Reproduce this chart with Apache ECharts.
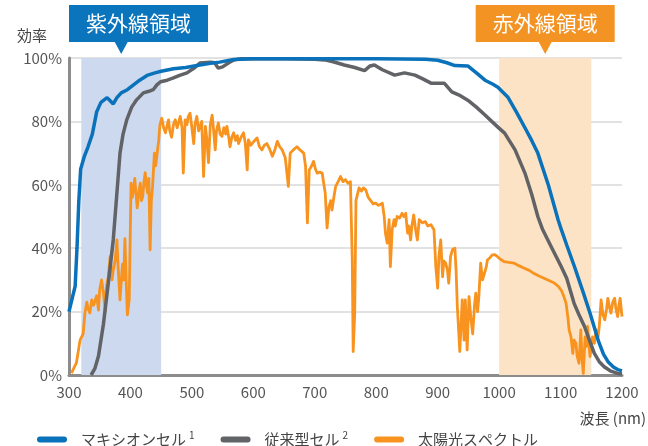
<!DOCTYPE html>
<html><head><meta charset="utf-8">
<script src="https://cdn.jsdelivr.net/npm/echarts@6/dist/echarts.min.js"></script>
<style>html,body{margin:0;padding:0;background:#fff}#c{width:648px;height:446px}</style>
</head><body><div id="c"></div>
<script>
const seriesNames = ['マキシオンセル', '従来型セル', '太陽光スペクトル'];
const superscripts = ['1', '2', ''];
const uvRange = [320, 450];
const irRange = [1000, 1150];
const uvLabel = '紫外線領域';
const irLabel = '赤外線領域';
const yLabel = '効率';
const xLabel = '波長 (nm)';

const maxeon = [[300,20],[305,24],[310,28],[313,40],[316,55],[319,65],[325,69],[331,72],[338,76],[345,83],[352,86],[362,87.5],[367,86.5],[372,85.5],[378,87.5],[385,89],[395,90],[405,91.5],[415,93],[427,94.5],[440,95.3],[450,95.8],[470,96.6],[490,97],[513,97.8],[530,98.3],[545,98.7],[568,99.5],[600,99.8],[700,99.8],[800,99.8],[880,99.6],[900,99.3],[915,98.5],[928,97.6],[949,97.5],[965,95],[977,93],[990,91.7],[998,90.8],[1014,87.7],[1028,83],[1042,78],[1053,74],[1063,70],[1080,60],[1096,49],[1101,46],[1110,41],[1123,34],[1137,26],[1148,19.5],[1155,15],[1162,10.5],[1170,6.5],[1178,4],[1186,2.5],[1193,1.7],[1200,1.3]];

const conventional = [[336,0],[342,2],[348,6],[356,16],[364,29],[372,42.6],[377,55],[383,70],[388,76],[394,80.5],[402,84.5],[410,86.8],[421,89],[430,89.5],[437,90],[443,91.5],[449,92.5],[460,93],[470,93.7],[480,94.5],[492,95.3],[505,97],[513,98.4],[530,98.7],[537,98.5],[543,96.8],[550,97.2],[560,98.5],[568,99.4],[580,99.8],[650,99.8],[700,99.6],[716,99.4],[730,98.8],[748,97.8],[765,97],[781,96],[790,97.5],[797,97.8],[810,96.3],[830,94.6],[846,95.3],[863,94.6],[875,93.5],[890,92],[911,92],[923,89.3],[935,88.3],[949,86.7],[963,84.5],[977,82],[988,80],[998,78.2],[1009,76.3],[1026,71],[1042,63.7],[1053,57],[1063,50],[1071,45.8],[1086,40],[1101,34.2],[1110,30.5],[1122,22.6],[1130,19],[1139,15.3],[1147,11],[1155,6.8],[1163,4.2],[1171,2.6],[1182,1.2],[1193,0.5],[1200,0.3]];

const spectrum = [[304,0.6],[312,3.8],[318,11],[323,13],[326,19.6],[329,23],[331,21],[334,19.6],[337,23.7],[340,22],[342,21.6],[345,25],[348,20.5],[350,27],[353,30],[356,26],[359,20],[361,28],[364,31],[367,37.4],[370,30],[372,33],[375,36],[378,42.6],[380,34],[383,23.7],[387,35],[389,30],[391,43],[393,30],[395,19],[398,23.7],[401,60.5],[403,56],[405,58.4],[407,62],[409,61.6],[411,52.7],[414,58],[416,60.5],[418,55],[420,56.3],[422,61],[424,63.8],[426,60],[428,57.4],[430,62],[432,39.5],[434,55],[436,59.5],[439,70],[441,66],[443,65.8],[446,74],[448,79],[451,81],[454,78],[457,76.4],[460,79],[462,80.5],[464,77],[467,75],[470,79],[473,80.5],[476,78],[479,80],[481,81.6],[484,78],[486,63.7],[489,80.5],[492,79],[494,81.5],[497,82.6],[500,78],[503,73],[505,79],[508,81.6],[511,77],[514,76.4],[516,80],[519,62.6],[522,78.4],[524,75],[527,67],[530,79],[533,82],[535,78],[538,71],[540,77],[543,79.5],[546,76],[549,75.3],[552,78],[555,76],[557,78.4],[560,75],[562,72],[565,75],[568,76.4],[571,74],[574,75.5],[576,73],[580,75],[584,76.4],[587,73],[590,64.7],[592,74.2],[596,72.5],[600,73.5],[603,74],[606,74.8],[610,72],[614,71],[618,72.5],[622,73],[626,71.5],[631,69],[635,71],[639,73.7],[643,72],[647,71],[652,68.5],[655,69],[657,59.5],[660,70],[665,71],[671,72],[676,71],[682,70],[685,65.8],[688,48],[691,64.7],[695,66],[698,67.4],[701,65],[704,63.7],[708,64],[712,63.7],[717,57.4],[720,46.4],[723,53],[726,55],[728,52],[731,56],[734,59.5],[738,61],[742,62.6],[746,61],[750,61.6],[754,60.5],[758,61],[761,36.3],[762.5,7.4],[765,19.5],[767,55],[772,59],[776,58],[779,59],[783,58.4],[787,56],[791,55],[795,54],[799,54.2],[804,53.5],[810,54.2],[813,50],[815,44.7],[818,41.6],[821,49],[823,34.2],[826,46],[829,49],[831,47],[834,50],[838,49.5],[842,51],[845,50],[848,51],[851,44.8],[853,47],[856,42.6],[858,47],[861,50.5],[864,46],[867,42.6],[870,49],[875,48],[880,48.4],[884,47],[889,47.4],[894,45.8],[897,34.2],[900,27.4],[902,37.4],[905,42.6],[908,31],[910,36],[913,35.3],[916,33],[918,29],[921,37.4],[924,39.5],[928,40],[930,33],[932,21.6],[936,7.4],[940,23.7],[943,11],[945,23.7],[948,7.9],[951,24.7],[954,18],[957,13],[960,22],[962,25.8],[965,20],[967,24.7],[970,35.3],[973,30],[976,32],[979,34],[981,36.3],[985,37],[989,37.9],[993,38],[997,37.4],[1002,36.5],[1008,35.8],[1016,35.5],[1024,35.3],[1032,34.5],[1041,33.7],[1049,33],[1057,32],[1065,31.2],[1073,30.5],[1081,29.8],[1090,29],[1096,28],[1101,26.8],[1105,25],[1109,22.6],[1112,18],[1114,14.2],[1117,12],[1120,6.8],[1122,11],[1125,10],[1127,6],[1130,3.7],[1133,14.2],[1135,5],[1137,0.5],[1140,12],[1142,9],[1144,15.3],[1146,10],[1148,5.8],[1150,9],[1152,12],[1155,10],[1158,14.2],[1161,12],[1163,15.3],[1166,23.7],[1169,19],[1172,17.4],[1175,21],[1177,24.2],[1180,21],[1182,19.5],[1185,23],[1188,24.2],[1190,21],[1193,18.4],[1195,22],[1197,24.2],[1200,18.4]];

const colors = ['#0a72ba', '#616366', '#f7931e'];
const FONT = 'Noto Sans CJK JP';

const chart = echarts.init(document.getElementById('c'));
const capsule = 'path://M3,0 L27,0 A3,3 0 0 1 27,6 L3,6 A3,3 0 0 1 3,0 Z';

chart.setOption({
  animation: false,
  textStyle: { fontFamily: FONT },
  grid: { left: 69, right: 26, top: 58, bottom: 71 },
  legend: {
    data: seriesNames.map(n => ({ name: n, icon: capsule })),
    left: 32, top: 425,
    itemWidth: 30, itemHeight: 6, itemGap: 26,
    formatter: function (name) {
      const i = seriesNames.indexOf(name);
      return superscripts[i] ? '{t|' + name + '}{s|' + superscripts[i] + '}' : '{t|' + name + '}';
    },
    textStyle: {
      padding: [0, 0, 0, 9],
      rich: {
        t: { fontSize: 15, color: '#444', fontFamily: FONT },
        s: { fontSize: 10, color: '#444', fontFamily: FONT, padding: [0, 0, 9, 3] }
      }
    }
  },
  xAxis: {
    type: 'value', min: 300, max: 1200, interval: 100,
    axisLine: { show: true, onZero: false, lineStyle: { color: '#8c8c8c', width: 3 } },
    axisTick: { show: false },
    splitLine: { show: false },
    axisLabel: { fontSize: 15, color: '#555', margin: 10, fontFamily: FONT, formatter: v => String(v) }
  },
  yAxis: {
    type: 'value', min: 0, max: 100, interval: 20,
    axisLine: { show: true, lineStyle: { color: '#8c8c8c', width: 3 } },
    axisTick: { show: false },
    splitLine: { show: true, lineStyle: { color: '#d8d8d8', width: 1.5 } },
    axisLabel: { fontSize: 15, color: '#555', margin: 7, formatter: '{value}%', fontFamily: FONT }
  },
  series: [
    {
      name: seriesNames[2], type: 'line', data: spectrum, showSymbol: false, z: 3,
      lineStyle: { color: colors[2], width: 2.8, join: 'round' }, itemStyle: { color: colors[2] },
      markArea: {
        silent: true,
        data: [
          [{ xAxis: uvRange[0], itemStyle: { color: '#cdd9ee' } }, { xAxis: uvRange[1] }],
          [{ xAxis: irRange[0], itemStyle: { color: '#fde3c6' } }, { xAxis: irRange[1] }]
        ]
      }
    },
    {
      name: seriesNames[1], type: 'line', data: conventional, showSymbol: false, z: 4,
      lineStyle: { color: colors[1], width: 3.5 }, itemStyle: { color: colors[1] }
    },
    {
      name: seriesNames[0], type: 'line', data: maxeon, showSymbol: false, z: 5,
      lineStyle: { color: colors[0], width: 3.5 }, itemStyle: { color: colors[0] }
    }
  ]
});

function callout(centerNm, label, color, alignLeft) {
  const p = chart.convertToPixel({ gridIndex: 0 }, [centerNm, 100]);
  const gridLeft = chart.convertToPixel({ gridIndex: 0 }, [300, 100])[0];
  const w = 139, h = 37, top = 5;
  const boxX = alignLeft ? gridLeft : p[0] - w / 2;
  return {
    type: 'group',
    children: [
      { type: 'rect', shape: { x: boxX, y: top, width: w, height: h }, style: { fill: color } },
      { type: 'polygon', shape: { points: [[p[0] - 7, top + h - 1], [p[0] + 7, top + h - 1], [p[0], top + h + 12]] }, style: { fill: color } },
      { type: 'text', x: boxX + w / 2, y: top + h / 2, style: { text: label, fill: '#fff', font: '21px "' + FONT + '"', align: 'center', verticalAlign: 'middle' } }
    ]
  };
}

chart.setOption({
  graphic: [
    callout((uvRange[0] + uvRange[1]) / 2, uvLabel, '#0a74bc', true),
    callout((irRange[0] + irRange[1]) / 2, irLabel, '#f39323', false),
    { type: 'text', x: 17, y: 35, style: { text: yLabel, fill: '#444', font: '15px "' + FONT + '"', verticalAlign: 'middle' } },
    { type: 'text', x: 646, y: 418, style: { text: xLabel, fill: '#444', font: '15px "' + FONT + '"', align: 'right', verticalAlign: 'middle' } }
  ]
});
</script></body></html>
